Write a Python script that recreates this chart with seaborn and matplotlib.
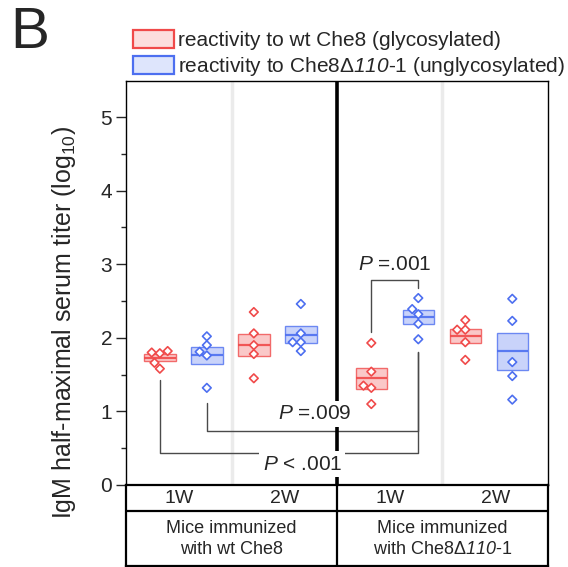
import numpy as np
import pandas as pd
import matplotlib
matplotlib.use('Agg')
import matplotlib.pyplot as plt
from matplotlib.patches import Patch
from matplotlib.ticker import MultipleLocator
import seaborn as sns

# log10 half-maximal IgM serum titer, 5 mice per group
# groups: immunogen x week (wt 1W, wt 2W, d110 1W, d110 2W)
week_labels = ['1W', '2W', '1W', '2W']
immunogen_labels = ['Mice immunized\nwith wt Che8',
                    'Mice immunized\nwith Che8Δ$\\mathsf{110}$-1']
antigen_labels = ['reactivity to wt Che8 (glycosylated)',
                  'reactivity to Che8Δ$\\mathsf{110}$-1 (unglycosylated)']

# reactivity to wt Che8 (glycosylated)
wt_titer = [
    [1.80, 1.82, 1.79, 1.66, 1.58],
    [2.35, 2.06, 1.90, 1.78, 1.45],
    [1.93, 1.54, 1.32, 1.35, 1.10],
    [2.24, 2.11, 2.11, 1.94, 1.70],
]
# reactivity to Che8d110-1 (unglycosylated)
d110_titer = [
    [1.81, 2.02, 1.90, 1.76, 1.32],
    [2.46, 2.06, 1.94, 1.94, 1.82],
    [2.54, 2.39, 2.32, 2.19, 1.98],
    [2.53, 2.23, 1.67, 1.48, 1.16],
]

# (group a, antigen a, group b, antigen b, label)
comparisons = [
    (2, 0, 2, 1, '$\\it{P}$ =.001'),
    (0, 1, 2, 1, '$\\it{P}$ =.009'),
    (0, 0, 2, 1, '$\\it{P}$ < .001'),
]

# ---- layout ----
wt_pos = [0, 2, 4.5, 6.5]
d110_pos = [1, 3, 5.5, 7.5]
colors = ['#f04a4a', '#4d6ff0']
x_min, x_max = -0.72, 8.26
divider_x = 3.77
quarter_lines = [1.53, 6.01]

rows = []
for g in range(4):
    for v in wt_titer[g]:
        rows.append({'pos': wt_pos[g], 'titer': v, 'antigen': antigen_labels[0]})
    for v in d110_titer[g]:
        rows.append({'pos': d110_pos[g], 'titer': v, 'antigen': antigen_labels[1]})
df = pd.DataFrame(rows)

summary = df.groupby(['pos', 'antigen'])['titer'].agg(['mean', 'sem']).reset_index()

sns.set_style('white')
plt.rcParams['font.family'] = ['Liberation Sans', 'DejaVu Sans']
plt.rcParams['mathtext.fontset'] = 'custom'
plt.rcParams['mathtext.rm'] = 'Liberation Sans'
plt.rcParams['mathtext.it'] = 'Liberation Sans:italic'
plt.rcParams['mathtext.sf'] = 'Liberation Sans:italic'

fig = plt.figure(figsize=(5.68, 5.67), dpi=100)
ax = fig.add_axes([126 / 568, 1 - 485 / 567, 422 / 568, (485 - 81) / 567])
tab = fig.add_axes([126 / 568, 1 - 566 / 567, 422 / 568, (566 - 485) / 567])

palette = dict(zip(antigen_labels, colors))

# mean +/- SEM boxes
box_w = 0.67
for _, r in summary.iterrows():
    c = palette[r['antigen']]
    ax.bar(r['pos'], 2 * r['sem'], bottom=r['mean'] - r['sem'], width=box_w,
           color=c, alpha=0.3, zorder=2)
    ax.bar(r['pos'], 2 * r['sem'], bottom=r['mean'] - r['sem'], width=box_w,
           facecolor='none', edgecolor=c, linewidth=1.0, alpha=0.8, zorder=2)
    ax.hlines(r['mean'], r['pos'] - box_w / 2, r['pos'] + box_w / 2,
              color=c, linewidth=1.6, alpha=0.9, zorder=3)

# individual mice
n_before = len(ax.collections)
sns.swarmplot(data=df, x='pos', y='titer', hue='antigen', palette=palette,
              native_scale=True, marker='D', size=4.4, linewidth=1.2,
              legend=False, ax=ax, zorder=4)
for coll in ax.collections[n_before:]:
    fc = coll.get_facecolors()
    if len(fc):
        coll.set_edgecolors(fc)
        coll.set_facecolors('white')

# quarter separators and immunogen divider
for xq in quarter_lines:
    ax.axvline(xq, color='#ebebeb', linewidth=2.5, zorder=0)
ax.axvline(divider_x, color='black', linewidth=2.6, zorder=5)

# significance brackets
bracket_geom = [
    (2.79, 2.08, 2.67, 2.99),
    (0.73, 1.12, 1.81, 0.965),
    (0.44, 1.43, 1.81, 0.285),
]
label_x = [5.0, 3.3, 3.03]
pos_lookup = [wt_pos, d110_pos]
for (ga, aa, gb, ab, lab), (bar_y, ya, yb, ty), tx in zip(comparisons, bracket_geom, label_x):
    xa = pos_lookup[aa][ga]
    xb = pos_lookup[ab][gb]
    ax.plot([xa, xa, xb, xb], [ya, bar_y, bar_y, yb], color='#4a4a4a',
            linewidth=1.0, zorder=4)
    ax.text(tx, ty, lab, ha='center', va='center', fontsize=15, zorder=6,
            bbox=dict(facecolor='white', edgecolor='none', pad=2.5))

ax.set_xlim(x_min, x_max)
ax.set_ylim(0, (485 - 81) / 73.6)
ax.set_xticks([])
ax.yaxis.set_major_locator(MultipleLocator(1))
ax.yaxis.set_minor_locator(MultipleLocator(0.5))
ax.tick_params(axis='y', which='major', direction='out', length=7, width=1,
               labelsize=15, pad=3, left=True)
ax.tick_params(axis='y', which='minor', direction='out', length=3.5, width=1, left=True)
ax.set_xlabel('')
ax.set_ylabel('IgM half-maximal serum titer (log$_{10}$)', fontsize=18)
ax.yaxis.set_label_coords(-0.114, 0.403)
for s in ax.spines.values():
    s.set_color('black')
    s.set_linewidth(1.0)

# category table under the axis
tab.set_xlim(x_min, x_max)
tab.set_ylim(81, 0)
tab.set_xticks([])
tab.set_yticks([])
for s in tab.spines.values():
    s.set_color('black')
    s.set_linewidth(1.6)
tab.axhline(26, color='black', linewidth=1.6)
tab.axvline(divider_x, color='black', linewidth=1.6)
quarter_edges = [x_min, quarter_lines[0], divider_x, quarter_lines[1], x_max]
for i, wl in enumerate(week_labels):
    tab.text((quarter_edges[i] + quarter_edges[i + 1]) / 2, 13.5, wl,
             ha='center', va='center', fontsize=14)
half_edges = [x_min, divider_x, x_max]
for i, il in enumerate(immunogen_labels):
    tab.text((half_edges[i] + half_edges[i + 1]) / 2, 54, il,
             ha='center', va='center', fontsize=13, linespacing=1.3)

# legend
handles = [Patch(facecolor=matplotlib.colors.to_rgba(c, 0.18),
                 edgecolor=c, linewidth=1.6) for c in colors]
fig.legend(handles, antigen_labels, loc='upper left',
           bbox_to_anchor=(133 / 568, 1 - 30 / 567), frameon=False,
           fontsize=15, handlelength=1.95, handleheight=0.95,
           handletextpad=0.2, labelspacing=0.25, borderpad=0, borderaxespad=0)

fig.text(10 / 568, 1 - 6 / 567, 'B', fontsize=42, ha='left', va='top')

fig.savefig('out.png', dpi=100)
